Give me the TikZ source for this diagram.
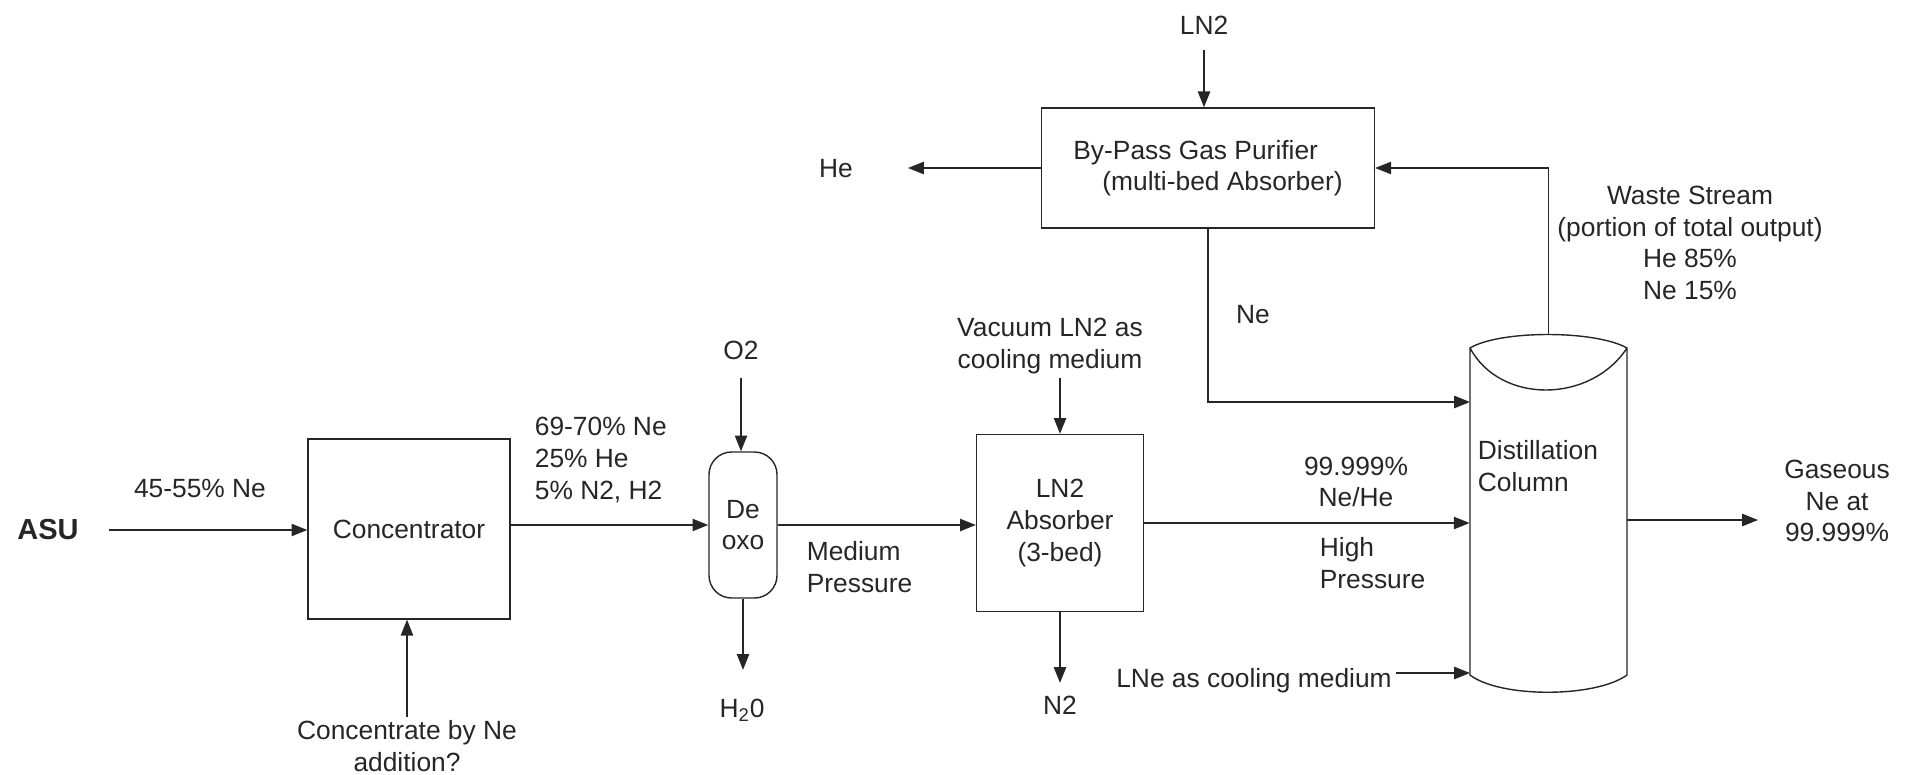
\documentclass[tikz,border=0pt]{standalone}
\usepackage{fontspec}
\setmainfont{Liberation Sans}
\usetikzlibrary{arrows.meta, positioning}
\tikzset{
  unit/.style={rectangle, draw, line width=0.8pt, align=center, inner sep=2pt},
  lbl/.style={align=center, inner sep=2pt},
  lbll/.style={align=left, inner sep=2pt},
  flow/.style={-{Triangle[length=9pt,width=7pt]}, line width=0.8pt},
}

\begin{document}
\begin{tikzpicture}[x=0.02cm, y=-0.02cm, font=\fontsize{15}{18}\selectfont,
                    draw=black!85, text=black!85]
  \useasboundingbox (0,0) rectangle (1915,774);

  % process units
  \node[unit, minimum width=4.04cm, minimum height=3.6cm] (conc) at (409,529) {Concentrator};
  \node[unit, rounded corners=0.45cm, minimum width=1.36cm, minimum height=2.92cm] (deoxo) at (743,525) {De\\oxo};
  \node[unit, minimum width=3.34cm, minimum height=3.54cm] (absorb) at (1060,523) {LN2\\Absorber\\(3-bed)};
  \node[unit, align=left, minimum width=6.66cm, minimum height=2.4cm] (purif) at (1208,168)
    {By-Pass Gas Purifier\\\hspace*{0.58cm}(multi-bed Absorber)};

  % distillation column
  \node[minimum width=3.14cm, minimum height=7.16cm, inner sep=0pt] (col) at (1548.5,513) {};
  \draw[line width=0.8pt] (1470,348) -- (1470,675)
    .. controls (1500,698) and (1595,698) .. (1627,675) -- (1627,348)
    .. controls (1595,330) and (1500,330) .. (1470,348)
    .. controls (1500,404) and (1590,404) .. (1627,348);
  \node[lbll, anchor=west] (coltxt) at (1474,466) {Distillation\\Column};

  % labels
  \node[lbl, font=\fontsize{16.5}{20}\selectfont\bfseries] (asu) at (48,530) {ASU};
  \node[lbl] (feed) at (200,488) {45-55\% Ne};
  \node[lbl] (addn) at (407,746) {Concentrate by Ne\\addition?};
  \node[lbll, anchor=west] (mix) at (531,460) {69-70\% Ne\\25\% He\\5\% N2, H2};
  \node[lbl] (otwo) at (741,350) {O2};
  \node[lbl] (water) at (742,710) {H\textsubscript{2}0};
  \node[lbll, anchor=west] (medp) at (803,567) {Medium\\Pressure};
  \node[lbl] (vac) at (1050,346) {Vacuum LN2 as\\cooling medium};
  \node[lbl] (ntwo) at (1060,705) {N2};
  \node[lbl] (pure) at (1356,482) {99.999\%\\Ne/He};
  \node[lbll, anchor=west] (highp) at (1316,563) {High\\Pressure};
  \node[lbl] (lne) at (1254,681) {LNe as cooling medium};
  \node[lbl] (gas) at (1837,501) {Gaseous\\Ne at\\99.999\%};
  \node[lbl] (lntwo) at (1204,25) {LN2};
  \node[lbl] (he) at (836,169) {He};
  \node[lbl] (nelbl) at (1253,315) {Ne};
  \node[lbl] (waste) at (1690,243) {Waste Stream\\(portion of total output)\\He 85\%\\Ne 15\%};

  % free stream ends
  \coordinate (heout) at (908,168);
  \coordinate (nein) at (1470,402);
  \coordinate (lnein) at (1470,673);
  \coordinate (gasin) at (1758,520);

  % streams
  \draw[flow, shorten <=0.53cm] (asu.east) -- (asu.east -| conc.west);
  \draw[flow] (conc.east |- deoxo) -- (deoxo.west);
  \draw[flow] (deoxo) -- (deoxo -| absorb.west);
  \draw[flow] (absorb) -- (absorb -| col.west);
  \draw[flow] (col.east |- gasin) -- (gasin);
  \draw[flow] (addn) -- (addn |- conc.south);
  \draw[flow, shorten <=0.3cm] (otwo) -- (otwo |- deoxo.north);
  \draw[flow, shorten >=0.5cm] (deoxo.south) -- (deoxo.south |- water.north);
  \draw[flow] (absorb.north |- vac.south) -- (absorb.north);
  \draw[flow, shorten >=0.18cm] (absorb.south) -- (absorb.south |- ntwo.north);
  \draw[flow] (purif.west) -- (heout);
  \draw[flow, shorten <=0.24cm] (lntwo) -- (lntwo |- purif.north);
  \draw[flow] (purif.south) |- (nein);
  \draw[flow] (col.north) |- (purif.east);
  \draw[flow] (lne.east |- lnein) -- (lnein);
\end{tikzpicture}
\end{document}
